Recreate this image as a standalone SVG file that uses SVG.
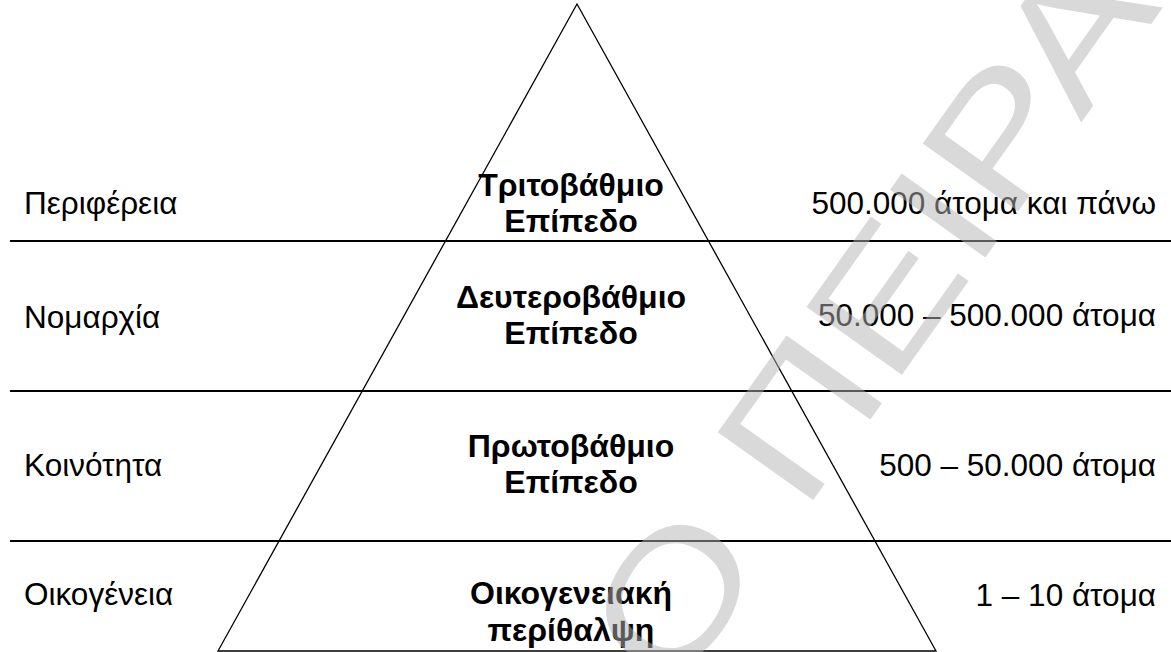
<svg xmlns="http://www.w3.org/2000/svg" width="1171" height="652" viewBox="0 0 1171 652">
  <style>
    .lbl { font-family: "Liberation Sans", Arial, sans-serif; font-size: 31.5px; fill: #000; }
    .lvl { font-family: "Liberation Sans", Arial, sans-serif; font-size: 32px; font-weight: bold; fill: #000; text-anchor: middle; }
    .num { text-anchor: end; }
    .sep { stroke: #000; stroke-width: 2; fill: none; }
    .edge { stroke: #000; stroke-width: 1.3; fill: none; stroke-linejoin: miter; }
    .wm { font-family: "Liberation Sans", Arial, sans-serif; font-size: 170px; fill: #b4b4b4; fill-opacity: 0.5; }
  </style>
  <rect width="1171" height="652" fill="#fff"/>

  <!-- separators and pyramid outline -->
  <g id="connectors">
    <line class="sep" x1="10" y1="241" x2="1171" y2="241"/>
    <line class="sep" x1="10" y1="391" x2="1171" y2="391"/>
    <line class="sep" x1="10" y1="541" x2="1171" y2="541"/>
    <polygon class="edge" points="577,4 936,651 218,651"/>
  </g>

  <!-- row: region -->
  <g id="row-regional">
    <text class="lbl" x="24" y="214">Περιφέρεια</text>
    <text class="lvl" x="571" y="196">Τριτοβάθμιο</text>
    <text class="lvl" x="571" y="232">Επίπεδο</text>
    <text class="lbl num" x="1156" y="214">500.000 άτομα και πάνω</text>
  </g>

  <!-- row: prefecture -->
  <g id="row-prefecture">
    <text class="lbl" x="24" y="328">Νομαρχία</text>
    <text class="lvl" x="571" y="308">Δευτεροβάθμιο</text>
    <text class="lvl" x="571" y="344">Επίπεδο</text>
    <text class="lbl num" x="1156" y="326">50.000 – 500.000 άτομα</text>
  </g>

  <!-- row: community -->
  <g id="row-community">
    <text class="lbl" x="24" y="476">Κοινότητα</text>
    <text class="lvl" x="571" y="457">Πρωτοβάθμιο</text>
    <text class="lvl" x="571" y="493">Επίπεδο</text>
    <text class="lbl num" x="1156" y="476">500 – 50.000 άτομα</text>
  </g>

  <!-- row: family -->
  <g id="row-family">
    <text class="lbl" x="24" y="605">Οικογένεια</text>
    <text class="lvl" x="571" y="604">Οικογενειακή</text>
    <text class="lvl" x="571" y="641">περίθαλψη</text>
    <text class="lbl num" x="1156" y="606">1 – 10 άτομα</text>
  </g>

  <!-- diagonal watermark, slightly stretched along its baseline -->
  <g id="watermark">
    <text class="wm" transform="translate(673,697) rotate(-54.6) scale(1.25,1)">Ο ΠΕΙΡΑΙΑ</text>
  </g>
</svg>
